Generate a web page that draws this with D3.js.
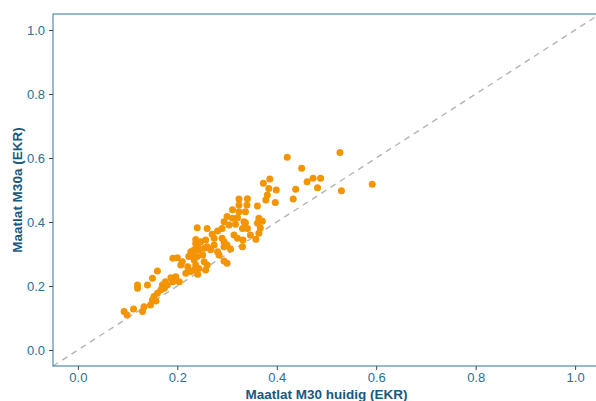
<!DOCTYPE html>
<html>
<head>
<meta charset="utf-8">
<script src="https://cdn.jsdelivr.net/npm/d3@7"></script>
<style>
  body { margin: 0; background: #fff; }
  svg { display: block; font-family: "Liberation Sans", Arial, sans-serif; }
</style>
</head>
<body>
<svg id="chart" width="596" height="401"></svg>
<script>
// huidige maatlat (x) tegen nieuwe maatlat (y), EKR-waarden
const ekrHuidig = [
  0.421, 0.527, 0.450, 0.461, 0.473, 0.488, 0.438, 0.482, 0.433, 0.530, 0.592,
  0.386, 0.373, 0.384, 0.399, 0.381, 0.378, 0.397, 0.361, 0.341, 0.324, 0.340,
  0.324, 0.337, 0.324, 0.311, 0.364, 0.371, 0.361, 0.337, 0.334, 0.341, 0.367,
  0.364, 0.347, 0.358, 0.332, 0.331, 0.300, 0.311, 0.321, 0.294, 0.304, 0.317,
  0.331, 0.321, 0.314, 0.240, 0.260, 0.281, 0.290, 0.270, 0.274, 0.290, 0.294,
  0.300, 0.307, 0.294, 0.237, 0.247, 0.257, 0.234, 0.243, 0.254, 0.230, 0.240,
  0.251, 0.260, 0.267, 0.274, 0.281, 0.284, 0.254, 0.260, 0.237, 0.243, 0.294,
  0.300, 0.227, 0.234, 0.257, 0.227, 0.223, 0.234, 0.191, 0.200, 0.210, 0.207,
  0.221, 0.241, 0.160, 0.150, 0.120, 0.120, 0.197, 0.204, 0.187, 0.191, 0.176,
  0.180, 0.170, 0.174, 0.167, 0.160, 0.153, 0.150, 0.157, 0.146, 0.133, 0.130,
  0.112, 0.093, 0.099, 0.217, 0.140, 0.237, 0.241
];
const ekrM30a = [
  0.602, 0.617, 0.568, 0.526, 0.537, 0.537, 0.502, 0.507, 0.472, 0.498, 0.518,
  0.534, 0.521, 0.505, 0.500, 0.484, 0.469, 0.461, 0.450, 0.473, 0.472, 0.453,
  0.453, 0.432, 0.432, 0.438, 0.412, 0.402, 0.396, 0.398, 0.401, 0.380, 0.381,
  0.365, 0.359, 0.346, 0.344, 0.323, 0.417, 0.412, 0.413, 0.401, 0.391, 0.393,
  0.380, 0.349, 0.359, 0.382, 0.380, 0.372, 0.380, 0.362, 0.349, 0.349, 0.338,
  0.328, 0.316, 0.323, 0.333, 0.338, 0.344, 0.313, 0.313, 0.318, 0.297, 0.292,
  0.297, 0.323, 0.313, 0.328, 0.307, 0.297, 0.276, 0.266, 0.266, 0.255, 0.278,
  0.271, 0.245, 0.250, 0.250, 0.307, 0.292, 0.281, 0.287, 0.288, 0.276, 0.266,
  0.260, 0.237, 0.247, 0.224, 0.203, 0.193, 0.229, 0.213, 0.226, 0.213, 0.213,
  0.203, 0.203, 0.193, 0.188, 0.177, 0.167, 0.156, 0.153, 0.141, 0.135, 0.120,
  0.128, 0.120, 0.109, 0.240, 0.203, 0.345, 0.328
];
const tickValues = [0, 0.2, 0.4, 0.6, 0.8, 1.0];

const data = ekrHuidig.map((v, i) => ({x: v, y: ekrM30a[i]}));

const svg = d3.select("#chart");
const pLeft = 53, pTop = 14, pRight = 600, pBottom = 366;

const x = d3.scaleLinear().domain([-0.05, 1.05]).range([pLeft, pRight]);
const y = d3.scaleLinear().domain([-0.05, 1.05]).range([pBottom, pTop]);

const borderCol = "#4f8db0";
const textCol = "#2a6f96";
const titleCol = "#17597d";

// y = x referentielijn
svg.append("line")
  .attr("x1", x(-0.05)).attr("y1", y(-0.05))
  .attr("x2", x(1.05)).attr("y2", y(1.05))
  .attr("stroke", "#b4b4b4").attr("stroke-width", 1.4)
  .attr("stroke-dasharray", "6,5");

// punten
svg.append("g")
  .selectAll("circle")
  .data(data)
  .enter()
  .append("circle")
  .attr("cx", d => x(d.x))
  .attr("cy", d => y(d.y))
  .attr("r", 3.5)
  .attr("fill", "#f39500");

// paneelrand
svg.append("rect")
  .attr("x", pLeft).attr("y", pTop)
  .attr("width", pRight - pLeft).attr("height", pBottom - pTop)
  .attr("fill", "none").attr("stroke", borderCol).attr("stroke-width", 1.2);

// assen
const xAxis = svg.append("g")
  .attr("transform", `translate(0,${pBottom})`)
  .call(d3.axisBottom(x).tickValues(tickValues).tickFormat(d3.format(".1f")).tickSize(4).tickPadding(3));
const yAxis = svg.append("g")
  .attr("transform", `translate(${pLeft},0)`)
  .call(d3.axisLeft(y).tickValues(tickValues).tickFormat(d3.format(".1f")).tickSize(4).tickPadding(4));

[xAxis, yAxis].forEach(g => {
  g.select(".domain").remove();
  g.selectAll(".tick line").attr("stroke", "#444").attr("stroke-width", 1);
  g.selectAll(".tick text").attr("fill", textCol)
    .style("font-size", "13px").style("font-family", "Liberation Sans, Arial, sans-serif");
});

// astitels
svg.append("text")
  .attr("x", (pLeft + pRight) / 2).attr("y", 398.5)
  .attr("text-anchor", "middle")
  .attr("fill", titleCol)
  .style("font-size", "13.5px").style("font-weight", "bold")
  .text("Maatlat M30 huidig (EKR)");

svg.append("text")
  .attr("transform", `translate(22,${(pTop + pBottom) / 2}) rotate(-90)`)
  .attr("text-anchor", "middle")
  .attr("fill", titleCol)
  .style("font-size", "13.5px").style("font-weight", "bold")
  .text("Maatlat M30a (EKR)");
</script>
</body>
</html>
